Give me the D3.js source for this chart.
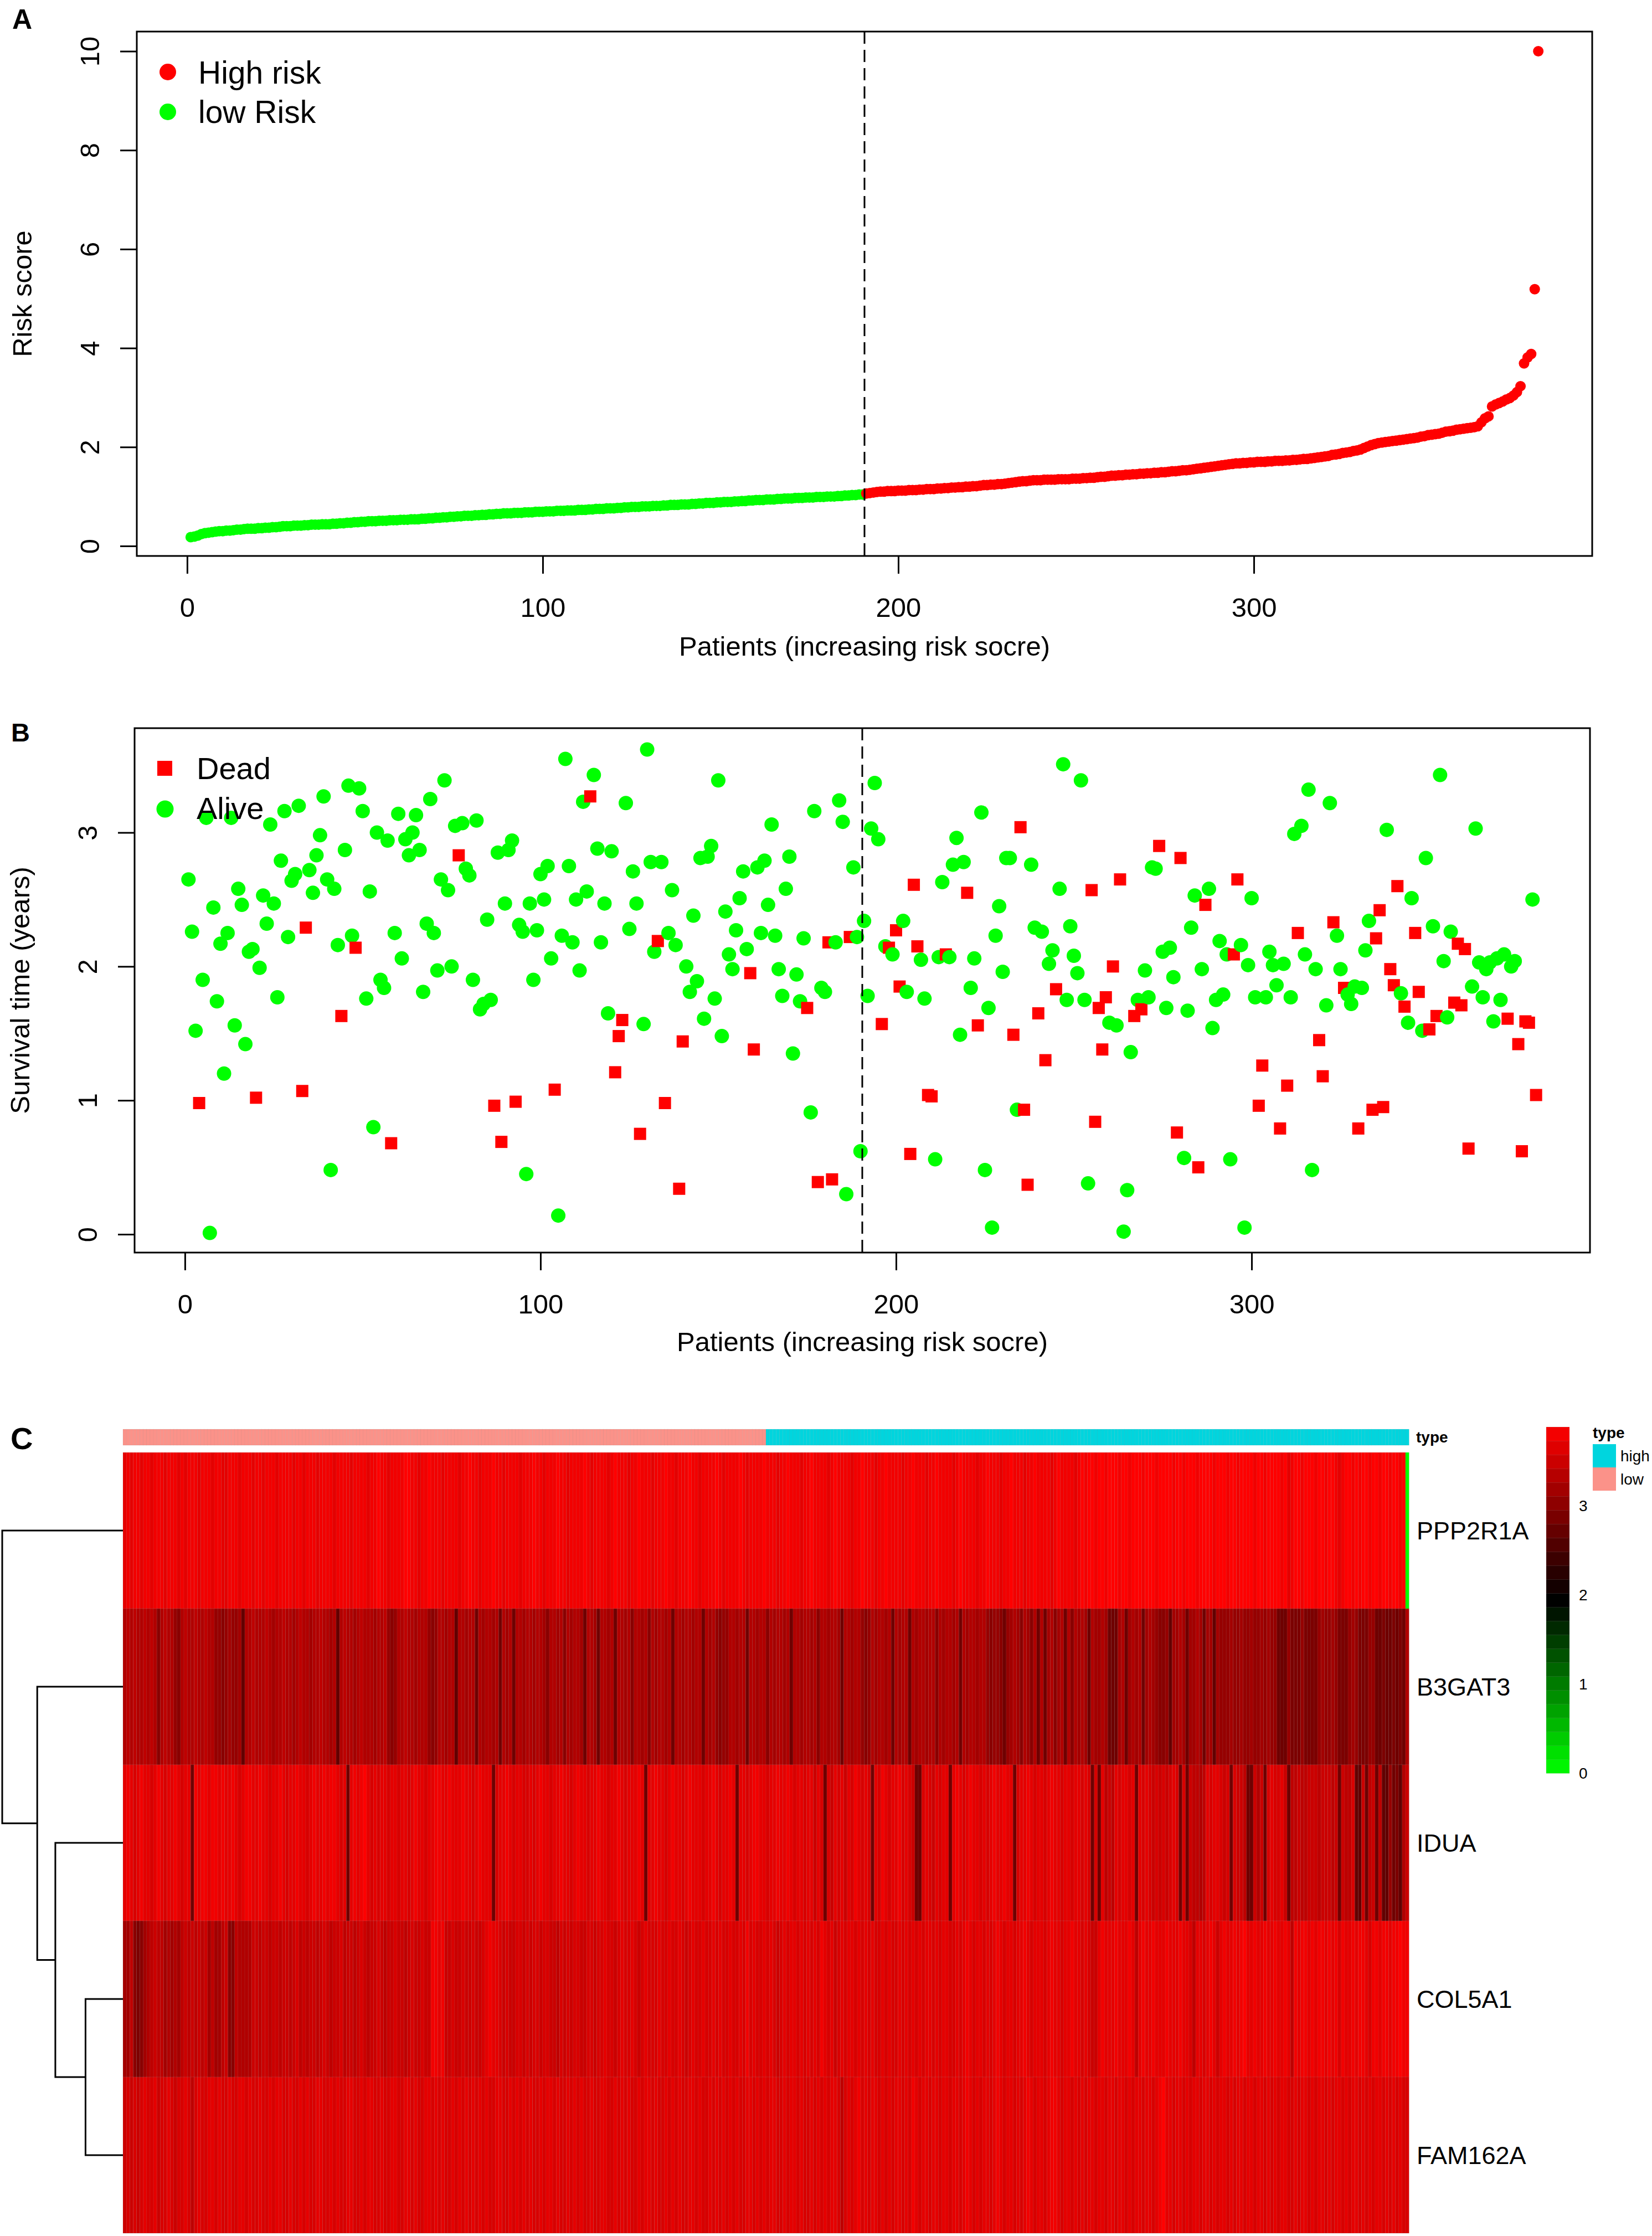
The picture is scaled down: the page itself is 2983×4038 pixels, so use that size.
<!DOCTYPE html>
<html>
<head>
<meta charset="utf-8">
<script src="https://cdn.jsdelivr.net/npm/d3@7"></script>
<style>
  body { margin: 0; background: #fff; }
</style>
</head>
<body>
<script>
const W = 2983, H = 4038;
const FONT = '"Liberation Sans", Arial, Helvetica, sans-serif';
const RED = "#FF0000", GREEN = "#00FF00";

// ---------------- data ----------------
// risk score of each patient, sorted increasing (panel A)
const riskScore = [
  0.18,0.19,0.21,0.24,0.26,0.27,0.28,0.29,0.30,0.30,0.31,0.31,0.32,0.33,0.33,0.34,0.35,0.35,0.35,0.36,
  0.36,0.37,0.37,0.38,0.38,0.39,0.40,0.40,0.40,0.41,0.41,0.41,0.42,0.42,0.43,0.43,0.43,0.44,0.44,0.44,
  0.45,0.45,0.46,0.46,0.47,0.47,0.48,0.48,0.49,0.49,0.50,0.50,0.50,0.51,0.51,0.51,0.52,0.52,0.52,0.53,
  0.53,0.53,0.54,0.54,0.54,0.55,0.55,0.56,0.56,0.57,0.57,0.58,0.58,0.59,0.59,0.60,0.60,0.61,0.61,0.61,
  0.62,0.62,0.63,0.63,0.64,0.64,0.65,0.65,0.66,0.66,0.66,0.67,0.67,0.67,0.68,0.68,0.68,0.69,0.69,0.69,
  0.70,0.70,0.70,0.71,0.71,0.71,0.72,0.72,0.72,0.73,0.73,0.73,0.74,0.74,0.75,0.75,0.75,0.76,0.76,0.76,
  0.77,0.77,0.78,0.78,0.79,0.79,0.79,0.80,0.80,0.80,0.81,0.81,0.81,0.82,0.82,0.83,0.83,0.83,0.84,0.84,
  0.84,0.85,0.85,0.86,0.86,0.87,0.87,0.87,0.88,0.88,0.89,0.89,0.89,0.90,0.90,0.91,0.91,0.92,0.92,0.93,
  0.93,0.93,0.94,0.94,0.94,0.95,0.95,0.96,0.96,0.96,0.97,0.97,0.97,0.98,0.98,0.98,0.99,0.99,0.99,1.00,
  1.00,1.00,1.01,1.01,1.02,1.02,1.03,1.03,1.04,1.04,1.06,1.07,1.08,1.09,1.10,1.10,1.11,1.11,1.11,1.12,
  1.12,1.12,1.13,1.13,1.13,1.14,1.14,1.15,1.15,1.15,1.16,1.16,1.17,1.17,1.18,1.18,1.19,1.19,1.20,1.20,
  1.21,1.21,1.22,1.23,1.23,1.24,1.24,1.25,1.25,1.26,1.27,1.28,1.29,1.30,1.31,1.31,1.32,1.33,1.33,1.33,
  1.34,1.34,1.34,1.34,1.35,1.35,1.35,1.35,1.36,1.36,1.36,1.37,1.37,1.38,1.38,1.39,1.40,1.40,1.41,1.42,
  1.42,1.43,1.43,1.44,1.44,1.45,1.45,1.46,1.46,1.47,1.47,1.48,1.48,1.49,1.49,1.50,1.51,1.51,1.52,1.53,
  1.53,1.54,1.55,1.56,1.57,1.58,1.59,1.60,1.61,1.62,1.63,1.64,1.65,1.66,1.67,1.67,1.68,1.68,1.69,1.69,
  1.70,1.70,1.70,1.71,1.71,1.72,1.72,1.72,1.73,1.73,1.74,1.74,1.75,1.76,1.76,1.77,1.78,1.79,1.80,1.81,
  1.82,1.84,1.85,1.86,1.88,1.89,1.90,1.92,1.93,1.95,1.98,2.01,2.04,2.06,2.08,2.09,2.10,2.11,2.12,2.13,
  2.14,2.15,2.16,2.17,2.18,2.19,2.21,2.22,2.24,2.25,2.26,2.27,2.29,2.31,2.32,2.33,2.35,2.36,2.37,2.38,
  2.39,2.40,2.42,2.50,2.58,2.62,2.82,2.86,2.89,2.92,2.96,2.99,3.04,3.11,3.23,3.69,3.81,3.88,5.19,10.00
];
const cutoff = 190.5;   // patients below are "low", above are "high"

// survival time in years (panel B), same patient order
const survTime = [
  2.65,2.26,1.52,0.98,1.90,3.11,0.01,2.44,1.74,2.17,1.20,2.25,3.11,1.56,2.58,2.46,1.42,2.11,2.13,1.02,
  1.99,2.53,2.32,3.06,2.47,1.77,2.79,3.16,2.22,2.64,2.69,3.20,1.07,2.29,2.72,2.55,2.83,2.98,3.27,2.65,
  0.48,2.58,2.16,1.63,2.87,3.35,2.23,2.14,3.33,3.16,1.76,2.56,0.80,3.00,1.90,1.84,2.94,0.68,2.25,3.14,
  2.06,2.95,2.83,3.00,3.13,2.87,1.81,2.32,3.25,2.25,1.97,2.65,3.39,2.57,2.00,3.05,2.83,3.07,2.73,2.68,
  1.90,3.09,1.68,1.72,2.35,1.75,0.96,2.85,0.69,2.47,2.87,2.94,0.99,2.31,2.26,0.45,2.47,1.90,2.27,2.69,
  2.50,2.75,2.06,1.08,0.14,2.23,3.55,2.75,2.18,2.50,1.97,3.23,2.56,3.27,3.43,2.88,2.18,2.47,1.65,2.86,
  1.21,1.48,1.60,3.22,2.28,2.71,2.47,0.75,1.57,3.62,2.78,2.11,2.19,2.78,0.98,2.25,2.57,2.16,0.34,1.44,
  2.00,1.81,2.38,1.89,2.81,1.61,2.82,2.90,1.76,3.39,1.48,2.41,2.09,1.98,2.27,2.51,2.71,2.13,1.95,1.38,
  2.74,2.25,2.79,2.46,3.06,2.23,1.98,1.78,2.58,2.82,1.35,1.94,1.74,2.21,1.69,0.91,3.16,0.39,1.84,1.81,
  2.18,0.41,2.18,3.24,3.08,0.30,2.22,2.74,2.22,0.62,2.34,1.78,3.03,3.37,2.95,1.57,2.15,2.14,2.09,2.27,
  1.85,2.34,1.81,0.60,2.61,2.15,2.05,1.76,1.04,1.03,0.56,2.07,2.63,2.09,2.07,2.76,2.96,1.49,2.78,2.55,
  1.84,2.06,1.56,3.15,0.48,1.69,0.05,2.23,2.45,1.96,2.81,2.81,1.49,0.93,3.04,0.93,0.37,2.76,2.29,1.65,
  2.26,1.30,2.02,2.12,1.83,2.58,3.51,1.75,2.30,2.08,1.95,3.39,1.75,0.38,2.57,0.84,1.69,1.38,1.77,1.58,
  2.00,1.56,2.65,0.02,0.33,1.36,1.63,1.75,1.68,1.97,1.77,2.74,2.73,2.90,2.11,1.69,2.14,1.92,0.76,2.81,
  0.57,1.67,2.29,2.53,0.50,1.98,2.46,2.58,1.54,1.75,2.19,1.79,2.09,0.56,2.09,2.65,2.16,0.05,2.01,2.51,
  1.77,0.96,1.26,1.77,2.11,2.01,1.86,0.79,2.02,1.11,1.77,2.99,2.25,3.05,2.09,3.32,0.48,1.98,1.45,1.18,
  1.71,3.22,2.33,2.23,1.98,1.84,1.79,1.72,1.85,0.79,1.84,2.12,2.34,0.93,2.21,2.42,0.95,3.02,1.98,1.86,
  2.60,1.80,1.70,1.58,2.51,2.25,1.81,1.52,2.81,1.53,2.30,1.63,3.43,2.04,1.62,2.26,1.73,2.17,1.71,2.13,
  0.64,1.85,3.03,2.03,1.77,1.98,2.03,1.59,2.06,1.75,2.09,1.61,2.00,2.04,1.42,0.62,1.59,1.58,2.50,1.04
];
// vital status: 1 = dead, 0 = alive
const vitalStatus = [
  0,0,0,1,0,0,0,0,0,0,0,0,0,0,0,0,0,0,0,1,
  0,0,0,0,0,0,0,0,0,0,0,0,1,1,0,0,0,0,0,0,
  0,0,0,1,0,0,0,1,0,0,0,0,0,0,0,0,0,1,0,0,
  0,0,0,0,0,0,0,0,0,0,0,0,0,0,0,0,1,0,0,0,
  0,0,0,0,0,0,1,0,1,0,0,0,1,0,0,0,0,0,0,0,
  0,0,0,1,0,0,0,0,0,0,0,0,0,1,0,0,0,0,0,0,
  1,1,1,0,0,0,0,1,0,0,0,0,1,0,1,0,0,0,1,1,
  0,0,0,0,0,0,0,0,0,0,0,0,0,0,0,0,0,0,1,1,
  0,0,0,0,0,0,0,0,0,0,0,0,0,0,1,0,0,1,0,0,
  1,1,0,0,0,0,1,0,0,0,0,0,0,0,0,1,0,1,0,1,
  1,0,0,1,1,1,0,0,1,1,0,0,0,1,0,0,0,0,0,1,
  0,0,1,0,0,0,0,0,0,0,0,0,1,0,1,1,1,0,0,1,
  0,1,0,0,1,0,0,0,0,0,0,0,0,0,1,1,1,1,1,0,
  1,0,1,0,0,0,1,0,1,0,0,0,0,1,0,0,0,0,1,1,
  0,0,0,0,1,0,1,0,0,0,0,0,0,0,1,1,0,0,0,0,
  0,1,1,0,0,0,0,1,0,1,0,0,1,0,0,0,0,0,1,1,
  0,0,1,0,0,1,0,0,0,1,0,0,0,1,1,1,1,0,1,1,
  1,0,1,0,0,1,1,0,0,1,0,1,0,0,0,0,1,1,1,1,
  1,0,0,0,0,0,0,0,0,0,0,1,0,0,1,1,1,1,0,1
];

// heatmap (panel C): expression per gene, same patient order
const genes = ["PPP2R1A", "B3GAT3", "IDUA", "COL5A1", "FAM162A"];
const exprPPP2R1A = [
  3.7,3.8,3.7,3.8,3.8,3.7,3.8,3.8,3.7,3.8,3.8,3.8,3.7,3.8,3.8,3.8,3.7,3.8,3.7,3.8,
  3.8,3.8,3.7,3.8,3.8,3.8,3.7,3.8,3.8,3.7,3.7,3.8,3.8,3.8,3.7,3.8,3.8,3.8,3.7,3.8,
  3.8,3.7,3.8,3.8,3.8,3.7,3.8,3.8,3.8,3.8,3.7,3.8,3.8,3.7,3.8,3.8,3.8,3.7,3.8,3.8,
  3.8,3.8,3.7,3.8,3.8,3.8,3.8,3.7,3.8,3.8,3.8,3.8,3.7,3.8,3.8,3.9,3.8,3.8,3.7,3.8,
  3.8,3.8,3.8,3.9,3.9,3.8,3.8,3.7,3.8,3.8,3.9,3.8,3.8,3.8,3.7,3.8,3.8,3.8,3.8,3.7,
  3.8,3.8,3.9,3.8,3.8,3.7,3.8,3.8,3.8,3.9,3.8,3.8,3.7,3.8,3.8,3.8,3.8,3.7,3.8,3.8,
  3.8,3.9,3.8,3.8,3.7,3.8,3.8,3.8,3.9,3.8,3.8,3.7,3.8,3.8,3.8,3.8,3.9,3.8,3.7,3.8,
  3.8,3.8,3.8,3.7,3.8,3.9,3.8,3.8,3.8,3.7,3.8,3.8,3.9,3.8,3.8,3.8,3.7,3.8,3.8,3.8,
  3.9,3.8,3.8,3.7,3.8,3.8,3.8,3.9,3.8,3.8,3.7,3.8,3.8,3.8,3.8,3.9,3.8,3.7,3.8,3.8,
  3.8,3.8,3.9,3.8,3.7,3.8,3.8,3.8,3.8,3.9,3.8,3.8,3.8,3.7,3.8,3.8,3.9,3.8,3.8,3.8,
  3.7,3.8,3.8,3.9,3.8,3.8,3.8,3.8,3.7,3.8,3.9,3.8,3.8,3.8,3.8,3.7,3.8,3.8,3.9,3.8,
  3.8,3.8,3.7,3.8,3.8,3.9,3.8,3.8,3.8,3.8,3.7,3.8,3.8,3.9,3.8,3.8,3.8,3.7,3.8,3.8,
  3.9,3.8,3.8,3.8,3.8,3.7,3.8,3.9,3.8,3.8,3.8,3.8,3.7,3.8,3.8,3.9,3.8,3.8,3.8,3.7,
  3.8,3.8,3.9,3.8,3.8,3.8,3.7,3.8,3.8,3.9,3.8,3.8,3.8,3.8,3.7,3.8,3.9,3.8,3.8,3.8,
  3.8,3.7,3.8,3.9,3.8,3.9,3.9,3.8,3.9,3.9,3.8,3.9,3.9,3.9,3.8,3.9,3.9,3.8,3.9,3.9,
  3.9,3.8,3.9,3.9,3.9,3.8,3.9,3.9,3.9,3.9,3.8,3.9,3.9,3.8,3.9,3.9,3.9,3.8,3.9,3.9,
  3.9,3.9,3.8,3.9,3.9,3.9,3.8,3.9,3.9,3.8,3.9,3.9,3.9,3.9,3.8,3.9,3.9,3.8,3.9,3.9,
  3.9,3.9,3.8,3.9,3.7,3.8,3.9,3.9,3.8,3.9,3.9,3.9,3.8,3.9,3.9,3.8,3.9,3.9,3.8,3.7,
  3.8,3.9,3.9,3.8,3.9,3.8,3.9,3.9,3.8,3.9,3.9,3.8,3.9,3.9,3.8,3.9,3.9,3.8,3.9,0.0
];
const exprB3GAT3 = [
  3.3,3.4,3.3,3.4,3.3,3.3,3.4,3.3,3.4,3.3,3.0,3.3,3.4,3.3,3.3,3.1,3.0,3.3,3.4,3.3,
  3.3,3.4,3.3,3.3,3.4,3.3,3.3,3.1,3.1,3.0,3.1,3.2,3.1,3.1,3.2,2.7,3.3,3.3,3.4,3.3,
  3.3,3.3,3.4,3.3,3.2,3.3,3.3,3.4,3.3,3.3,3.2,3.3,3.4,3.3,3.3,3.2,3.3,3.3,3.4,3.3,
  3.3,3.2,3.3,2.7,3.3,3.4,3.3,3.3,3.2,3.3,3.4,3.3,3.3,3.3,3.2,3.3,3.3,3.4,3.1,3.0,
  3.1,3.3,3.3,3.4,3.3,3.3,3.2,3.3,3.3,3.3,3.1,3.0,3.1,3.3,3.3,3.2,3.3,3.3,2.7,3.3,
  3.3,3.2,3.3,3.3,2.8,3.3,3.2,3.3,3.3,3.2,3.3,2.8,3.3,3.2,3.3,2.8,3.3,3.3,3.2,3.3,
  3.3,3.2,3.3,3.3,3.2,3.0,3.3,3.3,3.2,3.3,3.0,3.3,3.2,3.3,3.3,3.2,2.8,3.3,3.3,3.2,
  2.8,3.3,3.3,3.2,3.3,2.8,3.3,3.3,3.2,3.3,3.0,3.3,3.3,3.2,3.3,3.0,3.3,3.2,3.3,3.3,
  3.2,3.3,2.8,3.3,3.3,3.2,3.3,3.3,3.2,3.3,3.3,2.8,3.3,3.2,3.3,3.1,3.0,3.1,3.1,3.3,
  3.3,3.2,3.3,3.3,2.8,3.3,3.3,3.2,3.3,3.3,3.0,3.3,3.2,3.3,3.3,3.2,3.3,2.8,3.3,3.3,
  3.2,3.3,3.3,3.2,3.3,3.0,3.3,3.3,3.2,3.3,3.3,3.2,2.8,3.3,3.3,3.2,3.3,3.3,3.1,3.0,
  3.1,3.3,3.2,3.3,3.3,3.2,3.3,2.8,3.3,3.2,3.3,3.3,2.8,3.3,3.2,3.3,3.3,3.2,3.3,3.3,
  3.0,3.3,3.2,3.3,3.3,3.2,3.3,2.8,3.3,3.2,3.3,3.3,3.2,3.3,3.3,3.1,3.0,3.1,3.1,3.0,
  2.8,3.1,3.2,3.3,3.2,3.0,3.3,3.2,3.0,3.3,2.8,3.3,2.8,3.2,3.3,3.0,3.2,3.3,2.8,3.3,
  3.0,3.3,3.2,3.3,3.2,2.8,3.3,3.2,3.2,3.3,3.2,2.8,2.8,2.8,3.2,3.3,2.8,3.2,3.3,3.2,
  3.3,2.8,3.2,3.3,3.2,3.1,3.0,3.0,3.1,2.7,3.2,3.2,3.3,3.2,2.8,3.2,3.2,3.3,3.2,2.8,
  3.2,3.2,2.7,3.2,3.1,3.1,3.1,3.2,3.1,3.1,3.2,3.1,3.1,3.2,3.1,3.1,3.2,3.1,3.2,3.1,
  3.1,2.8,2.8,2.8,3.1,2.9,2.9,2.9,3.1,2.9,2.9,2.9,2.9,3.1,3.2,3.1,3.1,3.2,3.1,2.9,
  2.9,2.9,3.1,3.2,3.1,2.9,2.9,2.9,3.1,3.1,2.8,2.8,2.9,2.8,2.8,2.9,2.8,2.9,2.8,3.3
];
const exprIDUA = [
  3.7,3.8,3.7,3.6,3.7,3.8,3.7,3.7,3.6,3.7,3.8,3.7,3.6,3.7,3.7,3.8,3.7,3.6,3.7,3.7,
  2.8,3.8,3.7,3.8,3.8,3.7,3.8,3.8,3.7,3.8,3.7,3.7,3.8,3.7,3.6,3.7,3.8,3.8,3.7,3.7,
  3.8,3.7,3.7,3.6,3.7,3.7,3.8,3.7,3.6,3.7,3.7,3.8,3.7,3.7,3.6,3.7,3.8,3.7,3.7,3.8,
  3.7,3.8,3.8,3.7,3.6,3.7,2.8,3.7,3.8,3.7,3.8,3.9,3.7,3.6,3.7,3.6,3.7,3.7,3.6,3.7,
  3.7,3.6,3.7,3.7,3.6,3.7,3.8,3.7,3.7,3.6,3.7,3.7,3.8,3.8,3.7,3.7,3.8,3.7,3.7,3.7,
  3.8,3.7,3.7,3.6,3.7,3.8,3.7,3.7,3.7,2.8,3.6,3.7,3.7,3.8,3.7,3.6,3.7,3.7,3.6,3.6,
  3.7,3.6,3.7,3.8,3.7,3.7,3.6,3.7,3.7,3.8,3.7,3.7,3.6,3.7,3.8,3.7,3.7,3.6,3.7,3.7,
  3.8,3.7,3.7,3.6,3.7,3.7,3.8,3.7,3.6,3.7,3.7,3.7,3.8,3.7,2.8,3.7,3.7,3.8,3.7,3.7,
  3.6,3.7,3.8,3.7,3.7,3.6,3.7,3.8,3.7,3.7,3.7,3.6,3.7,3.7,3.8,3.7,3.6,3.7,3.7,3.8,
  3.7,2.8,3.7,3.7,3.6,3.7,3.8,3.8,3.7,3.7,3.6,3.7,3.7,3.8,3.7,3.7,3.8,3.7,3.6,3.7,
  3.7,3.6,3.7,3.7,3.5,3.7,3.6,2.8,3.6,3.5,3.7,3.6,3.7,3.5,3.7,3.6,3.8,3.7,3.6,3.7,
  3.6,2.8,3.7,3.6,3.8,3.7,3.6,3.7,3.7,3.8,3.6,3.7,3.6,3.5,2.8,2.8,3.6,3.7,3.6,3.5,
  3.7,3.6,3.7,3.7,2.8,3.7,3.8,3.7,3.6,3.7,3.8,3.7,3.7,3.6,3.7,3.6,3.7,3.8,3.7,3.7,
  3.8,3.7,3.7,2.8,3.6,3.7,3.7,3.8,3.7,3.6,3.7,3.7,3.6,3.7,3.8,3.7,3.7,3.6,3.7,3.7,
  3.6,3.7,3.7,3.6,3.7,3.6,2.8,3.6,2.8,3.7,3.4,3.5,3.4,3.7,3.6,3.7,3.7,3.6,3.7,2.8,
  3.7,3.6,3.7,3.6,3.5,3.6,3.5,3.6,3.5,3.6,3.7,3.6,2.8,3.6,2.8,3.5,3.4,3.4,3.3,3.4,
  3.7,3.6,3.7,3.7,3.6,3.5,3.6,2.8,3.6,3.5,3.5,3.4,2.8,2.8,3.5,3.3,3.5,2.8,3.6,3.7,
  3.6,3.6,3.7,3.5,2.8,3.4,3.4,3.5,3.4,3.4,3.5,3.5,3.5,3.4,3.5,3.5,3.5,3.4,3.5,2.8,
  3.5,3.4,3.4,3.6,2.7,2.7,3.5,2.8,3.4,3.5,2.8,3.4,2.7,2.7,3.1,2.8,2.9,2.7,3.3,3.5
];
const exprCOL5A1 = [
  3.2,3.2,3.4,3.0,2.9,3.0,3.2,3.3,3.4,3.5,3.4,3.4,3.2,3.3,3.2,3.3,3.2,3.4,3.5,3.4,
  3.5,3.4,3.5,3.4,3.5,3.2,3.4,3.2,3.2,3.4,3.5,3.0,3.0,3.4,3.3,3.3,3.3,3.3,3.5,3.5,
  3.4,3.5,3.5,3.4,3.5,3.5,3.4,3.5,3.5,3.4,3.5,3.6,3.4,3.5,3.4,3.5,3.5,3.4,3.5,3.6,
  3.5,3.4,3.5,3.5,3.6,3.4,3.5,3.5,3.4,3.5,3.6,3.5,3.4,3.5,3.5,3.6,3.5,3.4,3.5,3.5,
  3.6,3.5,3.5,3.4,3.5,3.6,3.5,3.5,3.6,3.5,3.5,3.8,3.8,3.7,3.8,3.5,3.5,3.6,3.5,3.5,
  3.6,3.5,3.5,3.6,3.5,3.5,3.6,3.7,3.8,3.7,3.7,3.6,3.5,3.6,3.5,3.5,3.6,3.6,3.5,3.6,
  3.5,3.6,3.6,3.5,3.6,3.6,3.5,3.5,3.4,3.6,3.5,3.6,3.5,3.6,3.6,3.5,3.5,3.6,3.6,3.5,
  3.6,3.6,3.7,3.6,3.6,3.5,3.6,3.7,3.6,3.6,3.7,3.6,3.5,3.6,3.7,3.6,3.6,3.6,3.7,3.6,
  3.6,3.7,3.6,3.6,3.7,3.6,3.5,3.6,3.7,3.6,3.6,3.7,3.6,3.6,3.7,3.6,3.7,3.6,3.6,3.7,
  3.6,3.6,3.7,3.6,3.8,3.6,3.7,3.6,3.6,3.7,3.6,3.7,3.6,3.5,3.6,3.7,3.6,3.7,3.7,3.6,
  3.7,3.6,3.7,3.6,3.7,3.6,3.8,3.7,3.6,3.7,3.5,3.6,3.7,3.6,3.7,3.7,3.6,3.7,3.6,3.7,
  3.6,3.7,3.6,3.6,3.7,3.6,3.7,3.6,3.6,3.7,3.6,3.7,3.6,3.7,3.6,3.7,3.6,3.7,3.7,3.6,
  3.7,3.6,3.7,3.7,3.6,3.6,3.7,3.6,3.7,3.8,3.7,3.6,3.7,3.7,3.6,3.7,3.6,3.7,3.8,3.7,
  3.6,3.7,3.7,3.6,3.7,3.7,3.8,3.7,3.6,3.7,3.7,3.7,3.6,3.7,3.8,3.7,3.7,3.6,3.7,3.7,
  3.8,3.7,3.7,3.6,3.7,3.6,3.5,3.5,3.7,3.8,3.7,3.7,3.7,3.8,3.7,3.7,3.7,3.8,3.7,3.4,
  3.7,3.8,3.7,3.7,3.8,3.7,3.7,3.7,3.8,3.7,3.7,3.7,3.8,3.7,3.7,3.6,3.4,3.7,3.7,3.6,
  3.7,3.8,3.7,3.5,3.7,3.8,3.7,3.7,3.8,3.7,3.8,3.9,3.7,3.7,3.8,3.7,3.7,3.8,3.7,3.7,
  3.8,3.7,3.7,3.8,3.7,3.4,3.8,3.7,3.8,3.8,3.7,3.8,3.7,3.8,3.8,3.7,3.8,3.7,3.8,3.6,
  3.8,3.7,3.7,3.8,3.7,3.8,3.8,3.7,3.6,3.8,3.8,3.7,3.8,3.8,3.7,3.8,3.8,3.9,3.8,3.8
];
const exprFAM162A = [
  3.5,3.6,3.5,3.6,3.5,3.6,3.7,3.6,3.6,3.7,3.5,3.6,3.6,3.7,3.6,3.5,3.6,3.6,3.7,3.6,
  3.4,3.6,3.7,3.6,3.6,3.7,3.7,3.6,3.7,3.6,3.6,3.7,3.6,3.6,3.7,3.7,3.6,3.7,3.6,3.6,
  3.7,3.6,3.6,3.7,3.6,3.7,3.7,3.6,3.6,3.7,3.6,3.6,3.7,3.6,3.7,3.6,3.6,3.7,3.7,3.6,
  3.6,3.7,3.6,3.7,3.6,3.6,3.7,3.7,3.6,3.6,3.7,3.6,3.7,3.7,3.6,3.6,3.7,3.6,3.6,3.7,
  3.7,3.6,3.6,3.7,3.7,3.6,3.7,3.6,3.6,3.7,3.7,3.6,3.7,3.6,3.7,3.6,3.6,3.7,3.6,3.7,
  3.6,3.7,3.6,3.7,3.6,3.7,3.6,3.7,3.6,3.6,3.7,3.7,3.6,3.6,3.7,3.6,3.7,3.6,3.7,3.6,
  3.7,3.6,3.6,3.7,3.6,3.7,3.7,3.6,3.7,3.6,3.6,3.7,3.6,3.7,3.6,3.7,3.6,3.6,3.7,3.6,
  3.6,3.7,3.7,3.6,3.6,3.7,3.6,3.7,3.6,3.7,3.6,3.6,3.7,3.6,3.7,3.7,3.6,3.7,3.6,3.6,
  3.7,3.6,3.7,3.6,3.7,3.6,3.6,3.7,3.7,3.6,3.7,3.6,3.6,3.7,3.6,3.7,3.6,3.7,3.6,3.7,
  3.6,3.7,3.6,3.6,3.7,3.7,3.6,3.7,3.6,3.7,3.6,3.7,3.7,3.6,3.6,3.7,3.6,3.7,3.7,3.6,
  3.7,3.6,3.6,3.7,3.6,3.7,3.6,3.7,3.6,3.7,3.7,3.6,3.4,3.6,3.7,3.6,3.7,3.8,3.6,3.7,
  3.6,3.7,3.7,3.6,3.7,3.6,3.7,3.6,3.7,3.7,3.6,3.7,3.6,3.8,3.7,3.6,3.7,3.7,3.6,3.7,
  3.7,3.6,3.7,3.7,3.6,3.7,3.7,3.6,3.7,3.8,3.7,3.6,3.7,3.6,3.7,3.7,3.6,3.7,3.8,3.7,
  3.6,3.7,3.7,3.6,3.7,3.6,3.7,3.8,3.7,3.6,3.7,3.7,3.6,3.7,3.8,3.8,3.7,3.6,3.7,3.7,
  3.6,3.7,3.6,3.7,3.6,3.7,3.7,3.6,3.7,3.7,3.6,3.7,3.7,3.6,3.7,3.7,3.6,3.7,3.6,3.7,
  3.7,3.6,3.7,3.7,3.6,3.7,3.8,3.9,3.7,3.7,3.6,3.7,3.7,3.6,3.7,3.6,3.7,3.7,3.6,3.7,
  3.7,3.6,3.7,3.6,3.7,3.7,3.6,3.7,3.6,3.7,3.7,3.6,3.7,3.7,3.6,3.7,3.7,3.6,3.7,3.6,
  3.7,3.6,3.7,3.7,3.6,3.6,3.7,3.6,3.7,3.7,3.6,3.7,3.6,3.7,3.7,3.6,3.7,3.6,3.7,3.7,
  3.6,3.7,3.6,3.7,3.7,3.6,3.7,3.6,3.7,3.6,3.7,3.7,3.6,3.7,3.6,3.7,3.6,3.7,3.6,3.6
];
const exprRows = [exprPPP2R1A, exprB3GAT3, exprIDUA, exprCOL5A1, exprFAM162A];

// row dendrogram: [left, right, merge height] (hclust style, "m1".. = earlier merges)
const rowMerges = [
  ["COL5A1", "FAM162A", 0.31],
  ["IDUA", "m1", 0.56],
  ["B3GAT3", "m2", 0.71],
  ["PPP2R1A", "m3", 1.0]
];

const xTicks = [0, 100, 200, 300];
const riskTicks = [0, 2, 4, 6, 8, 10];
const survTicks = [0, 1, 2, 3];
const legendTicks = [0, 1, 2, 3];
const typeLevels = ["high", "low"];
const typeColors = { high: "#00D5DE", low: "#FB9289" };

// ---------------- drawing ----------------
const svg = d3.select("body").append("svg")
  .attr("width", W).attr("height", H)
  .style("font-family", FONT);
svg.append("rect").attr("width", W).attr("height", H).attr("fill", "#fff");

const n = riskScore.length;
const patients = d3.range(1, n + 1);
const group = p => p < cutoff ? "low" : "high";

function box(g, x0, y0, x1, y1) {
  g.append("rect").attr("x", x0).attr("y", y0)
    .attr("width", x1 - x0).attr("height", y1 - y0)
    .attr("fill", "none").attr("stroke", "#000").attr("stroke-width", 3);
}
function bottomAxis(g, x, yPos) {
  const a = g.append("g").attr("transform", `translate(0,${yPos})`)
    .call(d3.axisBottom(x).tickValues(xTicks).tickSize(32).tickPadding(43).tickFormat(d3.format("d")));
  a.select(".domain").remove();
  a.selectAll("line").attr("stroke", "#000").attr("stroke-width", 3);
  a.selectAll("text").attr("font-size", 49).attr("font-family", FONT).attr("fill", "#000");
}
function leftAxis(g, y, xPos, ticks) {
  const a = g.append("g").attr("transform", `translate(${xPos},0)`)
    .call(d3.axisLeft(y).tickValues(ticks).tickSize(30).tickFormat(d3.format("d")));
  a.select(".domain").remove();
  a.selectAll("line").attr("stroke", "#000").attr("stroke-width", 3);
  a.selectAll("text").attr("x", null).attr("dy", null)
    .attr("text-anchor", "middle")
    .attr("transform", "translate(-68,0) rotate(-90)")
    .attr("font-size", 49).attr("font-family", FONT).attr("fill", "#000");
}
function panelLabel(t, x, y, size) {
  svg.append("text").attr("x", x).attr("y", y).attr("font-size", size)
    .attr("font-weight", "bold").text(t);
}
function cutLine(g, x, top, bottom) {
  g.append("line")
    .attr("x1", Math.round(x)).attr("x2", Math.round(x))
    .attr("y1", top).attr("y2", bottom)
    .attr("stroke", "#000").attr("stroke-width", 3).attr("stroke-dasharray", "22,11");
}

// ===== Panel A =====
const A = { left: 247, right: 2875, top: 57, bottom: 1004 };
const xA = d3.scaleLinear().domain([-14.16, 395.16]).range([A.left, A.right]);
const yA = d3.scaleLinear().domain([0, 10]).range([986, 92.5]);
const gA = svg.append("g");

gA.selectAll("circle.pt").data(patients).join("circle")
  .attr("class", "pt")
  .attr("cx", p => xA(p)).attr("cy", p => yA(riskScore[p - 1]))
  .attr("r", 9.5)
  .attr("fill", p => group(p) === "low" ? GREEN : RED);

cutLine(gA, xA(cutoff), A.top, A.bottom);
box(gA, A.left, A.top, A.right, A.bottom);
bottomAxis(gA, xA, A.bottom);
leftAxis(gA, yA, A.left, riskTicks);
gA.append("text").attr("x", (A.left + A.right) / 2).attr("y", A.bottom + 180)
  .attr("text-anchor", "middle").attr("font-size", 49).text("Patients (increasing risk socre)");
gA.append("text").attr("transform", `translate(57,${(A.top + A.bottom) / 2}) rotate(-90)`)
  .attr("text-anchor", "middle").attr("font-size", 49).text("Risk score");

const legA = [{ label: "High risk", color: RED }, { label: "low Risk", color: GREEN }];
legA.forEach((d, i) => {
  gA.append("circle").attr("cx", 303).attr("cy", 130 + i * 72).attr("r", 15).attr("fill", d.color);
  gA.append("text").attr("x", 358).attr("y", 151 + i * 71).attr("font-size", 57).text(d.label);
});
panelLabel("A", 22, 52, 50);

// ===== Panel B =====
const B = { left: 243, right: 2871, top: 1315, bottom: 2262 };
const xB = d3.scaleLinear().domain([-14.16, 395.16]).range([B.left, B.right]);
const yB = d3.scaleLinear().domain([0, 3]).range([2229, 1503.5]);
const gB = svg.append("g");

gB.selectAll("path.pt").data(patients).join("path")
  .attr("class", "pt")
  .attr("transform", p => `translate(${xB(p)},${yB(survTime[p - 1])})`)
  .attr("d", p => vitalStatus[p - 1] === 1
    ? "M-11,-11H11V11H-11Z"
    : d3.symbol(d3.symbolCircle, Math.PI * 13 * 13)())
  .attr("fill", p => vitalStatus[p - 1] === 1 ? RED : GREEN);

cutLine(gB, xB(cutoff), B.top, B.bottom);
box(gB, B.left, B.top, B.right, B.bottom);
bottomAxis(gB, xB, B.bottom);
leftAxis(gB, yB, B.left, survTicks);
gB.append("text").attr("x", (B.left + B.right) / 2).attr("y", B.bottom + 178)
  .attr("text-anchor", "middle").attr("font-size", 49).text("Patients (increasing risk socre)");
gB.append("text").attr("transform", `translate(53,${(B.top + B.bottom) / 2}) rotate(-90)`)
  .attr("text-anchor", "middle").attr("font-size", 49).text("Survival time (years)");

gB.append("rect").attr("x", 284).attr("y", 1374).attr("width", 27).attr("height", 27).attr("fill", RED);
gB.append("circle").attr("cx", 298).attr("cy", 1461).attr("r", 15.5).attr("fill", GREEN);
gB.append("text").attr("x", 355).attr("y", 1407).attr("font-size", 56).text("Dead");
gB.append("text").attr("x", 355).attr("y", 1479).attr("font-size", 56).text("Alive");
panelLabel("B", 20, 1339, 47);

// ===== Panel C (heatmap) =====
const C = { left: 222, right: 2544, top: 2623, bottom: 4033, annTop: 2581, annBottom: 2610 };
const xC = d3.scaleBand().domain(d3.range(n)).range([C.left, C.right]).padding(0);
const yC = d3.scaleBand().domain(genes).range([C.top, C.bottom]).padding(0);
const color = d3.scaleLinear().domain([0, 1.95, 3.9])
  .range(["#00FF00", "#000000", "#FF0000"]).clamp(true);
const gC = svg.append("g");

// annotation bar
gC.selectAll("rect.ann").data(patients).join("rect")
  .attr("class", "ann")
  .attr("x", p => xC(p - 1)).attr("width", xC.bandwidth() + 0.3)
  .attr("y", C.annTop).attr("height", C.annBottom - C.annTop)
  .attr("fill", p => typeColors[group(p)])
  .attr("stroke", "#999").attr("stroke-width", 0.4).attr("stroke-opacity", 0.35);

// cells
const cells = genes.flatMap((g, gi) => exprRows[gi].map((v, i) => ({ g, i, v })));
gC.selectAll("rect.cell").data(cells).join("rect")
  .attr("class", "cell")
  .attr("x", d => xC(d.i)).attr("width", xC.bandwidth() + 0.3)
  .attr("y", d => yC(d.g)).attr("height", yC.bandwidth())
  .attr("fill", d => color(d.v))
  .attr("stroke", "#999").attr("stroke-width", 0.4).attr("stroke-opacity", 0.4);

// gene labels
gC.selectAll("text.gene").data(genes).join("text")
  .attr("class", "gene")
  .attr("x", C.right + 14).attr("y", g => yC(g) + yC.bandwidth() / 2 + 16)
  .attr("font-size", 45).text(g => g);

gC.append("text").attr("x", C.right + 13).attr("y", 2605)
  .attr("font-size", 28).attr("font-weight", "bold").text("type");

// row dendrogram
const dendX = d3.scaleLinear().domain([0, 1]).range([C.left, 4]);
const nodePos = {};
genes.forEach(g => { nodePos[g] = { x: dendX(0), y: yC(g) + yC.bandwidth() / 2 }; });
const gD = gC.append("g").attr("fill", "none").attr("stroke", "#000").attr("stroke-width", 3);
rowMerges.forEach((m, k) => {
  const a = nodePos[m[0]], b = nodePos[m[1]], hx = dendX(m[2]);
  gD.append("path").attr("d", `M${a.x},${a.y}H${hx}V${b.y}H${b.x}`);
  nodePos["m" + (k + 1)] = { x: hx, y: (a.y + b.y) / 2 };
});

// colour legend
const leg = { x: 2792, w: 42 };
const yLeg = d3.scaleLinear().domain([0, 3.89]).range([3202, 2577]);
const bandVals = d3.range(25).map(k => (k + 0.5) * 3.89 / 25);
gC.selectAll("rect.legband").data(bandVals).join("rect")
  .attr("class", "legband")
  .attr("x", leg.x).attr("width", leg.w)
  .attr("y", v => yLeg(v + 3.89 / 50)).attr("height", yLeg(0) - yLeg(3.89 / 25) + 0.5)
  .attr("fill", v => color(v))
  .attr("stroke", "#999").attr("stroke-width", 0.4).attr("stroke-opacity", 0.4);
gC.selectAll("text.legtick").data(legendTicks).join("text")
  .attr("class", "legtick")
  .attr("x", leg.x + leg.w + 17).attr("y", v => yLeg(v))
  .attr("dominant-baseline", "central")
  .attr("font-size", 28).text(v => v);

// annotation legend
gC.append("text").attr("x", 2876).attr("y", 2597)
  .attr("font-size", 28).attr("font-weight", "bold").text("type");
typeLevels.forEach((t, i) => {
  gC.append("rect").attr("x", 2876).attr("y", 2608 + i * 42)
    .attr("width", 42).attr("height", 42).attr("fill", typeColors[t]);
  gC.append("text").attr("x", 2926).attr("y", 2639 + i * 42)
    .attr("font-size", 28).text(t);
});

panelLabel("C", 19, 2617, 56);
</script>
</body>
</html>
